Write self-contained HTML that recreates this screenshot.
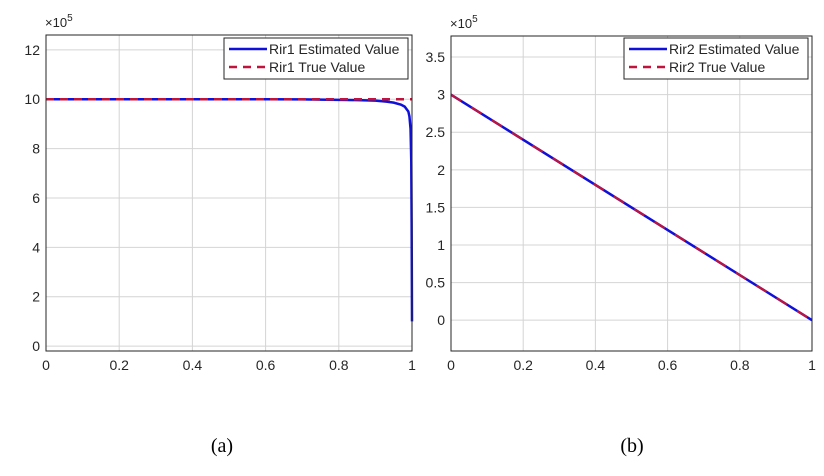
<!DOCTYPE html>
<html><head><meta charset="utf-8"><style>
body{margin:0;background:#fff;width:824px;height:471px;overflow:hidden;font-family:"Liberation Sans",sans-serif}
svg text{font-family:"Liberation Sans",sans-serif;fill:#262626}
</style></head><body>
<svg id="s" width="824" height="471">
<text x="222" y="452" font-size="20" text-anchor="middle" style="font-family:'Liberation Serif',serif;fill:#000">(a)</text>
<text x="632" y="452" font-size="20" text-anchor="middle" style="font-family:'Liberation Serif',serif;fill:#000">(b)</text>
</svg>
<script>
// Chart (a)
const aX = [0,0.1,0.2,0.3,0.4,0.5,0.6,0.7,0.8,0.85,0.9,0.93,0.95,0.97,0.98,0.99,0.993,0.996,0.998,0.999,1.0];
const aEst = [10,10,10,10,10,10,10,9.99,9.97,9.96,9.94,9.9,9.86,9.78,9.7,9.5,9.3,8.8,7.5,5,1.0];
const aTrue = [10,10];
const aTrueX = [0,1];
const aYTicks = [0,2,4,6,8,10,12];
const xTicks = [0,0.2,0.4,0.6,0.8,1];
const xTickLabels = ["0","0.2","0.4","0.6","0.8","1"];
// Chart (b)
const bX = [0,1];
const bEst = [3,0];
const bTrue = [3,0];
const bYTicks = [0,0.5,1,1.5,2,2.5,3,3.5];
const bYLabels = ["0","0.5","1","1.5","2","2.5","3","3.5"];

const svg = document.getElementById('s');
const NS = 'http://www.w3.org/2000/svg';
function mk(tag, attrs){const e=document.createElementNS(NS,tag);for(const k in attrs)e.setAttribute(k,attrs[k]);svg.appendChild(e);return e;}

function chart(cfg){
  const {L,R,T,B,ymin,ymax,yt,ytl,series,legend,prefix}=cfg;
  const sx=v=>L+(v-0)*(R-L);
  const sy=v=>B-(v-ymin)/(ymax-ymin)*(B-T);
  let r=mk('rect',{x:L,y:T,width:R-L,height:B-T,fill:'#fff',stroke:'none'});
  
  
  xTicks.forEach((v,i)=>{
    let g=mk('line',{x1:sx(v),x2:sx(v),y1:T,y2:B,stroke:'#d4d4d4','stroke-width':1});
    
    
    let t=mk('text',{x:sx(v),y:B+19,'font-size':14,'text-anchor':'middle'});
    t.textContent=xTickLabels[i];
    
    
  });
  yt.forEach((v,i)=>{
    let g=mk('line',{x1:L,x2:R,y1:sy(v),y2:sy(v),stroke:'#d4d4d4','stroke-width':1});
    
    
    let t=mk('text',{x:L-6,y:sy(v)+5,'font-size':14,'text-anchor':'end'});
    t.textContent=ytl[i];
    
    
  });
  let ex=mk('text',{x:L-1,y:T-8,'font-size':13});
  ex.innerHTML='×10<tspan dy="-6" font-size="10">5</tspan>';
  
  
  series.forEach(s=>{
    const pts=s.x.map((v,i)=>sx(v)+','+sy(s.y[i])).join(' ');
    let p=mk('polyline',{points:pts,fill:'none',stroke:s.color,'stroke-width':s.w,'stroke-dasharray':s.dash||'none'});
    
    
  });
  let bx=mk('rect',{x:L,y:T,width:R-L,height:B-T,fill:'none',stroke:'#262626','stroke-width':1});
  
  
  const lg=legend;
  let lr=mk('rect',{x:lg.x,y:lg.y,width:184,height:41,fill:'#fff',stroke:'#262626','stroke-width':1});
  
  
  lg.items.forEach((it,i)=>{
    const yy=lg.y+11+i*18;
    let l=mk('line',{x1:lg.x+5,x2:lg.x+43,y1:yy,y2:yy,stroke:it.color,'stroke-width':2.5,'stroke-dasharray':it.dash||'none'});
    
    
    let t=mk('text',{x:lg.x+45,y:yy+5,'font-size':14});
    t.textContent=it.label;
    
    
  });
}
chart({L:46,R:412,T:35,B:351,ymin:-0.2,ymax:12.6,yt:aYTicks,ytl:aYTicks.map(String),prefix:'a',
  series:[{x:aX,y:aEst,color:'#1010d8',w:2.5,name:'rir1-estimated-line'},{x:aTrueX,y:aTrue,color:'#c0143c',w:2.5,dash:'8,6',name:'rir1-true-line'}],
  legend:{x:224,y:38,items:[{label:'Rir1 Estimated Value',color:'#1010d8'},{label:'Rir1 True Value',color:'#c0143c',dash:'8,6'}]}});
chart({L:451,R:812,T:36,B:351,ymin:-0.41,ymax:3.78,yt:bYTicks,ytl:bYLabels,prefix:'b',
  series:[{x:bX,y:bEst,color:'#1010d8',w:2.5,name:'rir2-estimated-line'},{x:bX,y:bTrue,color:'#c0143c',w:2.2,dash:'12,12',name:'rir2-true-line'}],
  legend:{x:624,y:38,items:[{label:'Rir2 Estimated Value',color:'#1010d8'},{label:'Rir2 True Value',color:'#c0143c',dash:'8,6'}]}});
</script>
</body></html>
